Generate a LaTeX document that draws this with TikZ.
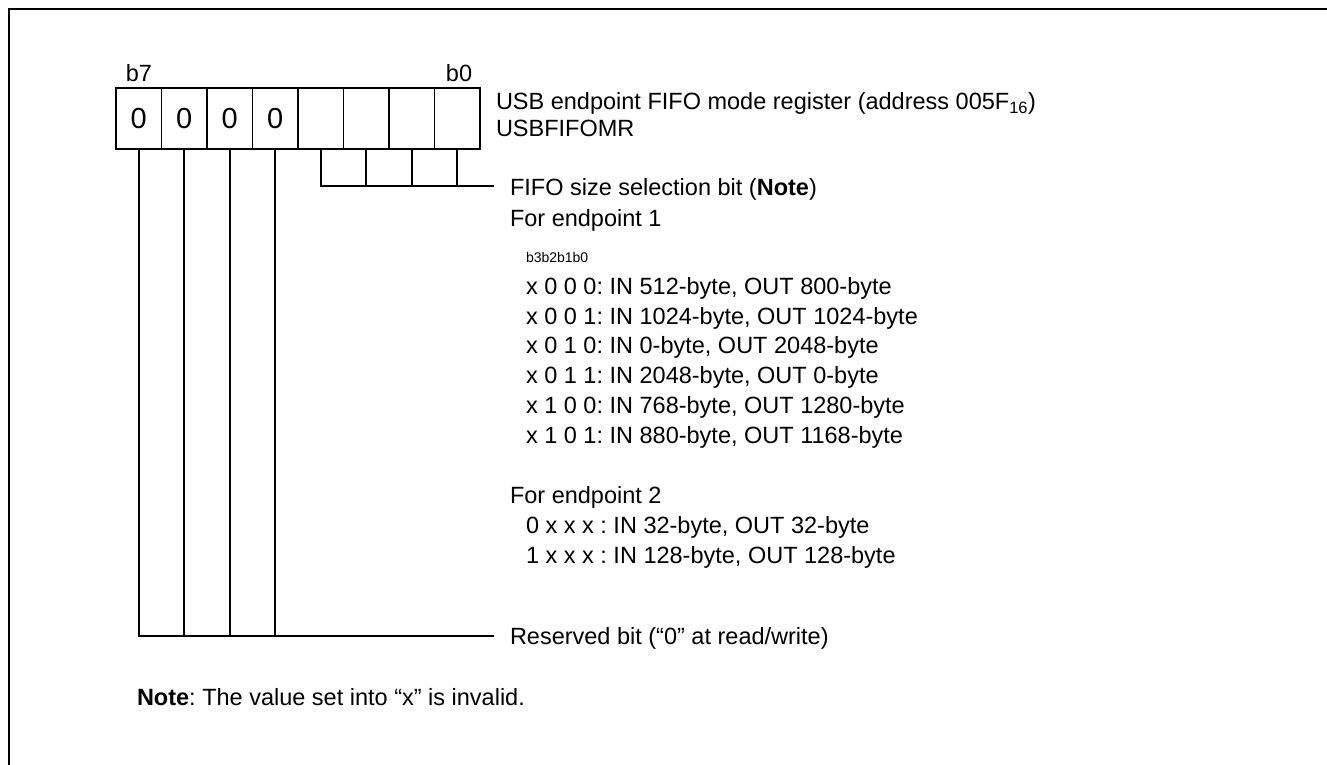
\documentclass[tikz,border=0pt]{standalone}
\usepackage{fontspec}
\setmainfont{Liberation Sans}
\frenchspacing
\begin{document}
\frenchspacing
\begin{tikzpicture}[x=1pt,y=-1pt,
  every node/.style={inner sep=0pt, outer sep=0pt},
  txt/.style={anchor=base west, font=\fontsize{23.5}{28}\selectfont},
  smalltxt/.style={anchor=base west, font=\fontsize{14}{16}\selectfont},
  bitlbl/.style={anchor=base, font=\fontsize{23.5}{28}\selectfont},
  cell/.style={draw, line width=1.9pt, minimum width=45.5pt, minimum height=61pt, font=\fontsize{29}{32}\selectfont},
  wire/.style={line width=1.9pt},
  frame/.style={line width=2.6pt}]
\useasboundingbox (0,0) rectangle (1327,765);
% frame (cropped)
\draw[frame] (9,765) -- (9,9) -- (1327,9);
% register cells
\node[cell] (b7) at (138.75,118.5) {0};
\node[cell] (b6) at (184.25,118.5) {0};
\node[cell] (b5) at (229.75,118.5) {0};
\node[cell] (b4) at (275.25,118.5) {0};
\node[cell] (b3) at (320.75,118.5) {};
\node[cell] (b2) at (366.25,118.5) {};
\node[cell] (b1) at (411.75,118.5) {};
\node[cell] (b0) at (457.25,118.5) {};
\node[bitlbl] (lb7) at (139,82) {b7};
\node[bitlbl] (lb0) at (459,82) {b0};
% register name
\node[txt] (name1) at (496,110) {USB endpoint FIFO mode register (address 005F\textsubscript{16})};
\node[txt] (name2) at (496,136) {USBFIFOMR};
% FIFO size selection bits
\coordinate (fifoEnd) at (494,186);
\draw[wire] (b3.south) |- (fifoEnd);
\draw[wire] (b2.south) -- (b2.south |- fifoEnd);
\draw[wire] (b1.south) -- (b1.south |- fifoEnd);
\draw[wire] (b0.south) -- (b0.south |- fifoEnd);
\node[txt] (fifo) at (510,195) {FIFO size selection bit (\textbf{Note})};
\node[txt] (ep1) at (510,226) {For endpoint 1};
\node[smalltxt] (bits) at (526,262) {b3b2b1b0};
\node[txt] (r1) at (526,294) {x 0 0 0: IN 512-byte, OUT 800-byte};
\node[txt] (r2) at (526,324) {x 0 0 1: IN 1024-byte, OUT 1024-byte};
\node[txt] (r3) at (526,353.5) {x 0 1 0: IN 0-byte, OUT 2048-byte};
\node[txt] (r4) at (526,383) {x 0 1 1: IN 2048-byte, OUT 0-byte};
\node[txt] (r5) at (526,413) {x 1 0 0: IN 768-byte, OUT 1280-byte};
\node[txt] (r6) at (526,443) {x 1 0 1: IN 880-byte, OUT 1168-byte};
\node[txt] (ep2) at (510,503) {For endpoint 2};
\node[txt] (s1) at (526,533) {0 x x x : IN 32-byte, OUT 32-byte};
\node[txt] (s2) at (526,563) {1 x x x : IN 128-byte, OUT 128-byte};
% reserved bits
\coordinate (resEnd) at (494,636);
\draw[wire] (b7.south) |- (resEnd);
\draw[wire] (b6.south) -- (b6.south |- resEnd);
\draw[wire] (b5.south) -- (b5.south |- resEnd);
\draw[wire] (b4.south) -- (b4.south |- resEnd);
\node[txt] (res) at (510,644) {Reserved bit (“0” at read/write)};
% note
\node[txt] (note) at (137,705) {\textbf{Note}: The value set into “x” is invalid.};
\end{tikzpicture}
\end{document}
